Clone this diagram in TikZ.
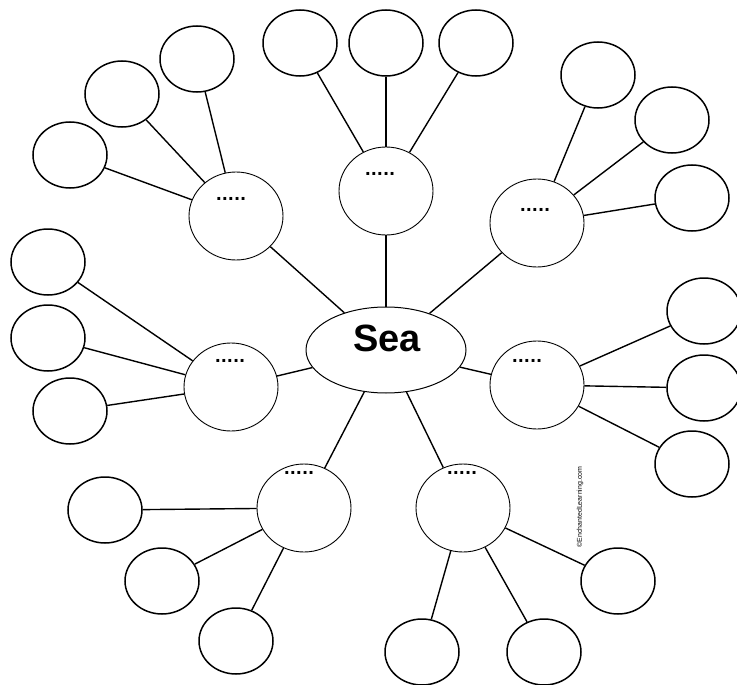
\documentclass[tikz,border=0pt]{standalone}
\usepackage{fontspec}
\setmainfont{Liberation Sans}
\newfontfamily\dejabold{DejaVu Sans}
\usetikzlibrary{shapes.geometric}
\begin{document}
\begin{tikzpicture}[x=1pt,y=-1pt,
  outer/.style={draw,ellipse,line width=1.5pt,minimum width=74pt,minimum height=66pt,inner sep=0pt},
  mid/.style={draw,ellipse,line width=0.9pt,minimum width=94pt,minimum height=88pt,inner sep=0pt},
  dots/.style={font=\dejabold\bfseries\fontsize{16}{16}\selectfont,inner sep=0pt},
  conn/.style={line width=1.4pt}]
\useasboundingbox (0,0) rectangle (737,685);
% centre
\node[draw,ellipse,line width=1pt,minimum width=160pt,minimum height=86pt] (c) at (386,350) {};
\node[font=\bfseries\fontsize{38}{38}\selectfont,inner sep=0pt] (sea) at (387,338) {Sea};
% mid circles
\node[mid] (m1) at (236,216) {};
\node[mid] (m2) at (386,191) {};
\node[mid] (m3) at (537,223) {};
\node[mid] (m4) at (231,387) {};
\node[mid] (m5) at (537,385) {};
\node[mid] (m6) at (304,508) {};
\node[mid] (m7) at (463,508) {};
\node[dots] (d1) at (231,199) {.....};
\node[dots] (d2) at (380,174) {.....};
\node[dots] (d3) at (535,210) {.....};
\node[dots] (d4) at (230,361) {.....};
\node[dots] (d5) at (527,361) {.....};
\node[dots] (d6) at (299,473) {.....};
\node[dots] (d7) at (462,473) {.....};
% outer circles
\node[outer] (a1) at (197,59) {};
\node[outer] (a2) at (122,94) {};
\node[outer] (a3) at (70,155) {};
\node[outer] (b1) at (300,43) {};
\node[outer] (b2) at (386,43) {};
\node[outer] (b3) at (476,43) {};
\node[outer] (e1) at (598,75) {};
\node[outer] (e2) at (672,120) {};
\node[outer] (e3) at (692,198) {};
\node[outer] (f1) at (48,262) {};
\node[outer] (f2) at (48,338) {};
\node[outer] (f3) at (70,411) {};
\node[outer] (g1) at (704,311) {};
\node[outer] (g2) at (704,388) {};
\node[outer] (g3) at (692,464) {};
\node[outer] (h1) at (105,510) {};
\node[outer] (h2) at (162,581) {};
\node[outer] (h3) at (236,641) {};
\node[outer] (k1) at (422,652) {};
\node[outer] (k2) at (544,652) {};
\node[outer] (k3) at (618,581) {};
% connectors centre-mid
\foreach \m in {m1,m2,m3,m4,m5,m6,m7} \draw[conn] (c) -- (\m);
% connectors mid-outer
\foreach \m/\o in {m1/a1,m1/a2,m1/a3,m2/b1,m2/b2,m2/b3,m3/e1,m3/e2,m3/e3,
  m4/f1,m4/f2,m4/f3,m5/g1,m5/g2,m5/g3,m6/h1,m6/h2,m6/h3,m7/k1,m7/k2,m7/k3}
  \draw[conn] (\m) -- (\o);
% copyright
\node[rotate=90,font=\fontsize{7}{7}\selectfont,inner sep=0pt] (copy) at (580,507) {©EnchantedLearning.com};
\end{tikzpicture}
\end{document}
